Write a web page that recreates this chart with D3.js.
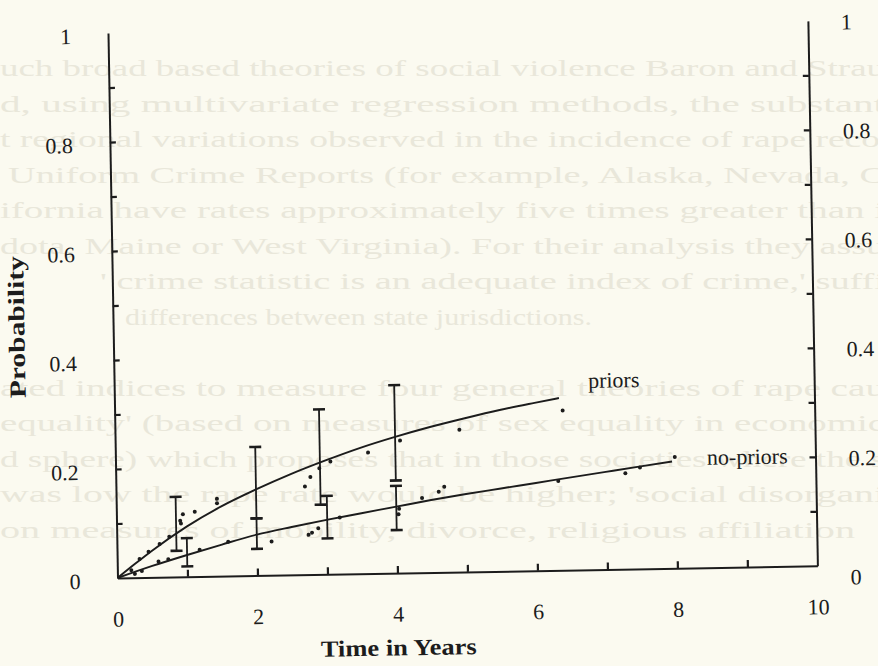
<!DOCTYPE html>
<html><head><meta charset="utf-8">
<script src="https://cdn.jsdelivr.net/npm/d3@7"></script>
<style>
html,body{margin:0;padding:0;background:#fbfaf0;}
svg{display:block;}
</style></head><body>
<script>
// ---- data ----
const timeTicks = [1,2,3,4,5,6,7,8,9];
const timeLabels = [0,2,4,6,8,10];
const probTicks = [0.1,0.2,0.3,0.4,0.5,0.6,0.7,0.8,0.9];
const probLabels = [0,0.2,0.4,0.6,0.8,1];

const priorsCurveX = [0,0.25,0.5,1,1.5,2,2.5,3,3.5,4,4.5,5,5.5,6,6.35];
const priorsCurveY = [0,0.025,0.049,0.092,0.128,0.158,0.185,0.209,0.231,0.250,0.267,0.282,0.296,0.308,0.316];
const noPriorsCurveX = [0,0.5,1,1.5,2,2.5,3,3.5,4,4.5,5,5.5,6,6.5,7,7.5,7.95];
const noPriorsCurveY = [0,0.021,0.040,0.058,0.075,0.088,0.100,0.111,0.122,0.133,0.143,0.152,0.161,0.170,0.179,0.188,0.196];

const priorsDotX = [0.20,0.32,0.45,0.61,0.75,0.91,0.92,0.95,1.12,1.44,1.44,2.70,2.78,2.91,3.07,3.61,4.07,4.92,6.40];
const priorsDotY = [0.014,0.034,0.047,0.061,0.074,0.103,0.098,0.115,0.119,0.142,0.134,0.162,0.179,0.195,0.207,0.222,0.243,0.261,0.293];
const noPriorsDotX = [0.25,0.35,0.59,0.73,1.18,1.59,2.21,2.74,2.79,2.88,3.19,4.03,4.04,4.37,4.61,4.69,6.32,7.28,7.49,7.99];
const noPriorsDotY = [0.007,0.012,0.029,0.033,0.049,0.063,0.062,0.073,0.077,0.085,0.104,0.108,0.118,0.137,0.148,0.157,0.164,0.176,0.186,0.204];

const priorsBarX  = [0.85,2,2.92,4];
const priorsBarLo = [0.048,0.105,0.128,0.170];
const priorsBarHi = [0.147,0.236,0.303,0.345];
const noPriorsBarX  = [1,2,3.01,4];
const noPriorsBarLo = [0.019,0.049,0.066,0.079];
const noPriorsBarHi = [0.071,0.105,0.144,0.160];

const seriesNames = ["priors","no-priors"];
const xTitle = "Time in Years";
const yTitle = "Probability";

// faint show-through text from the page behind
const ghostLines = [
  "uch broad based theories of social violence Baron and Strau",
  "d, using multivariate regression methods, the substant",
  "t regional variations observed in the incidence of rape reco",
  " Uniform Crime Reports (for example, Alaska, Nevada, C",
  "ifornia have rates approximately five times greater than i",
  "dota, Maine or West Virginia). For their analysis they assu",
  "' crime statistic is an adequate index of crime,' suffi",
  "differences between state jurisdictions.",
  "",
  "ated indices to measure four general theories of rape cau",
  "equality' (based on measures of sex equality in economic",
  "d sphere) which proposes that in those societies where the s",
  "was low the rape rate would be higher; 'social disorgani",
  "on measures of mobility, divorce, religious affiliation"
];
const ghostStart = [0,0,0,8,0,0,100,125,0,0,0,0,0,0];
const ghostEnd   = [885,885,880,885,885,885,885,592,0,885,885,885,885,855];

// ---- drawing ----
const W = 878, H = 666;
const ink = "#1c1c1c";
const svg = d3.select("body").append("svg").attr("width", W).attr("height", H);
svg.append("rect").attr("width", W).attr("height", H).attr("fill", "#fbfaf0");

// ghost text (very faint, behind everything)
const ghost = svg.append("g").attr("font-family", "Liberation Serif").attr("font-size", 24).attr("fill", "#e9e7da");
ghostLines.forEach((t, i) => {
  if (!t) return;
  ghost.append("text").attr("x", ghostStart[i]).attr("y", 76 + i * 35.5)
    .attr("textLength", ghostEnd[i] - ghostStart[i]).attr("lengthAdjust", "spacingAndGlyphs").text(t);
});

const x = d3.scaleLinear().domain([0, 10]).range([0, 700]);
const y = d3.scaleLinear().domain([0, 1]).range([0, -545]);

const g = svg.append("g").attr("transform", "translate(117.5,578) rotate(-1)");

function styleAxis(sel) {
  sel.selectAll(".domain").attr("stroke", ink).attr("stroke-width", 2);
  sel.selectAll(".tick line").attr("stroke", ink).attr("stroke-width", 2.2);
  sel.selectAll("text").attr("fill", ink).attr("font-family", "Liberation Serif").attr("font-size", 22);
}

// bottom axis
g.append("g").call(d3.axisBottom(x).tickValues(timeTicks).tickSize(-7).tickSizeOuter(0).tickFormat(""))
  .call(styleAxis);
g.append("g").call(d3.axisBottom(x).tickValues(timeLabels).tickSize(0).tickPadding(33).tickFormat(d3.format("d")))
  .call(s => s.select(".domain").remove()).call(styleAxis);

// left axis
g.append("g").call(d3.axisLeft(y).tickValues(probTicks).tickSize(-6).tickSizeOuter(0).tickFormat(""))
  .call(styleAxis);
g.append("g").call(d3.axisLeft(y).tickValues(probLabels).tickSize(0).tickPadding(37).tickFormat(d => d === 0 || d === 1 ? d : d.toFixed(1)))
  .call(s => s.select(".domain").remove()).call(styleAxis)
  .call(s => s.selectAll("text").attr("dy", "0.45em"));

// right axis
g.append("g").attr("transform", `translate(${x(10)},0)`)
  .call(d3.axisRight(y).tickValues(probTicks).tickSize(-6).tickSizeOuter(0).tickFormat(""))
  .call(styleAxis);
g.append("g").attr("transform", `translate(${x(10)},0)`)
  .call(d3.axisRight(y).tickValues(probLabels).tickSize(0).tickPadding(33).tickFormat(d => d === 0 || d === 1 ? d : d.toFixed(1)))
  .call(s => s.select(".domain").remove()).call(styleAxis)
  .call(s => s.selectAll("text").attr("dy", d => d === 0 ? "0.85em" : "0.4em"));

// titles
g.append("text").attr("x", x(4)).attr("y", 77).attr("text-anchor", "middle")
  .attr("dominant-baseline", "middle")
  .attr("font-family", "Liberation Serif").attr("font-weight", "bold").attr("font-size", 23)
  .attr("textLength", 156).attr("lengthAdjust", "spacingAndGlyphs")
  .attr("fill", ink).text(xTitle);
g.append("text").attr("transform", `translate(-94,${y(0.4635)}) rotate(-90)`).attr("text-anchor", "middle")
  .attr("dominant-baseline", "middle")
  .attr("font-family", "Liberation Serif").attr("font-weight", "bold").attr("font-size", 23)
  .attr("textLength", 142).attr("lengthAdjust", "spacingAndGlyphs")
  .attr("fill", ink).text(yTitle);

// curves
const line = d3.line().x(d => x(d[0])).y(d => y(d[1])).curve(d3.curveMonotoneX);
g.append("path").datum(priorsCurveX.map((v, i) => [v, priorsCurveY[i]]))
  .attr("d", line).attr("fill", "none").attr("stroke", ink).attr("stroke-width", 1.9);
g.append("path").datum(noPriorsCurveX.map((v, i) => [v, noPriorsCurveY[i]]))
  .attr("d", line).attr("fill", "none").attr("stroke", ink).attr("stroke-width", 1.9);

// dots
g.append("g").selectAll("circle").data(priorsDotX.map((v, i) => [v, priorsDotY[i]]))
  .join("circle").attr("cx", d => x(d[0])).attr("cy", d => y(d[1])).attr("r", 2).attr("fill", ink);
g.append("g").selectAll("circle").data(noPriorsDotX.map((v, i) => [v, noPriorsDotY[i]]))
  .join("circle").attr("cx", d => x(d[0])).attr("cy", d => y(d[1])).attr("r", 2).attr("fill", ink);

// error bars
function bars(xs, lo, hi) {
  const gg = g.append("g").attr("stroke", ink);
  xs.forEach((xv, i) => {
    gg.append("line").attr("x1", x(xv)).attr("x2", x(xv)).attr("y1", y(lo[i])).attr("y2", y(hi[i])).attr("stroke-width", 1.8);
    [lo[i], hi[i]].forEach(v => {
      gg.append("line").attr("x1", x(xv) - 6).attr("x2", x(xv) + 6).attr("y1", y(v)).attr("y2", y(v)).attr("stroke-width", 2.6);
    });
  });
}
bars(priorsBarX, priorsBarLo, priorsBarHi);
bars(noPriorsBarX, noPriorsBarLo, noPriorsBarHi);

// series labels
g.append("text").attr("x", x(6.77)).attr("y", y(0.343)).attr("dominant-baseline", "middle")
  .attr("font-family", "Liberation Serif").attr("font-size", 22).attr("fill", ink).text(seriesNames[0]);
g.append("text").attr("x", x(8.45)).attr("y", y(0.198)).attr("dominant-baseline", "middle")
  .attr("font-family", "Liberation Serif").attr("font-size", 22).attr("fill", ink).text(seriesNames[1]);
</script>
</body></html>
